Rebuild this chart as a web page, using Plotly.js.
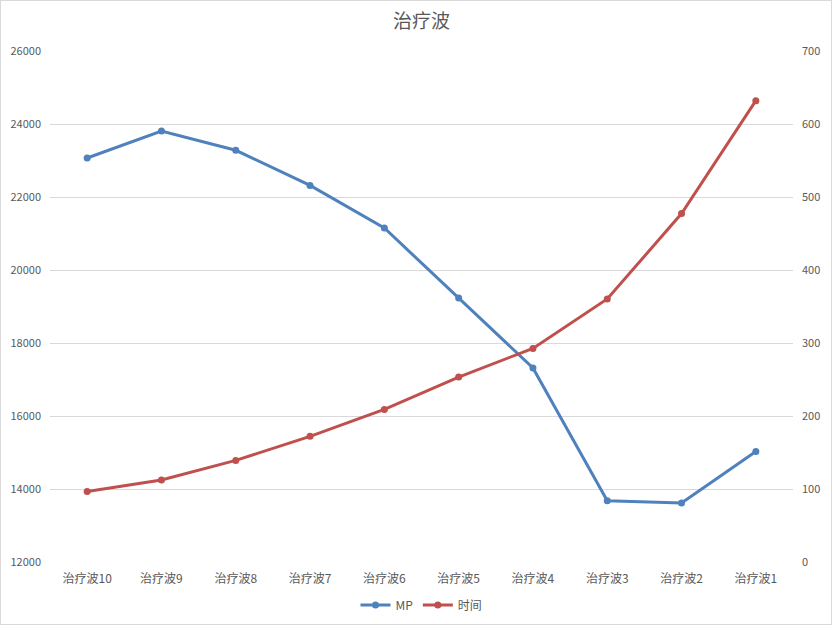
<!DOCTYPE html>
<html>
<head>
<meta charset="utf-8">
<script src="https://cdn.plot.ly/plotly-3.0.1.min.js"></script>
<style>
html,body{margin:0;padding:0;background:#fff;}
#chart{position:absolute;left:0;top:0;width:832px;height:625px;}
#frame{position:absolute;left:0;top:0;width:830px;height:623px;border:1px solid #d9d9d9;pointer-events:none;}
</style>
</head>
<body>
<div id="chart"></div>
<div id="frame"></div>
<script>
const categories = ["治疗波10","治疗波9","治疗波8","治疗波7","治疗波6","治疗波5","治疗波4","治疗波3","治疗波2","治疗波1"];
const mpValues = [23068, 23808, 23280, 22318, 21151, 19233, 17315, 13679, 13616, 15030];
const timeValues = [96.7, 112.3, 139.2, 172.1, 209, 253.4, 292.6, 360.3, 477.3, 632];
const seriesNames = ["MP", "时间"];

const font = "'Noto Sans CJK SC', 'Microsoft YaHei', sans-serif";
const tickColor = "#595959";

const traces = [
  {
    x: categories, y: mpValues, name: seriesNames[0], type: "scatter", mode: "lines+markers",
    line: {color: "#4F81BD", width: 3}, marker: {color: "#4F81BD", size: 7},
    yaxis: "y"
  },
  {
    x: categories, y: timeValues, name: seriesNames[1], type: "scatter", mode: "lines+markers",
    line: {color: "#C0504D", width: 3}, marker: {color: "#C0504D", size: 7},
    yaxis: "y2"
  }
];

const layout = {
  width: 832, height: 625,
  margin: {l: 50, r: 39, t: 51, b: 63, autoexpand: false},
  paper_bgcolor: "#fff", plot_bgcolor: "#fff",
  font: {family: font, color: tickColor, size: 11},
  title: {text: "治疗波", font: {family: font, size: 19, color: "#595959"}, x: 0.5, xanchor: "center", xref: "paper", y: 0.966, yanchor: "middle", yref: "container"},
  showlegend: true,
  legend: {orientation: "h", x: 0.5, xanchor: "center", xref: "paper", y: 0.032, yanchor: "middle", yref: "container", font: {size: 12, color: tickColor}, traceorder: "normal"},
  xaxis: {
    type: "category", range: [-0.5, categories.length - 0.5], autorange: false,
    showgrid: false, zeroline: false, showline: false, ticks: "", automargin: false,
    tickfont: {size: 12, color: tickColor}, ticklabelstandoff: 8
  },
  yaxis: {
    range: [12000, 26000], dtick: 2000, tick0: 12000, showgrid: true, gridcolor: "#d9d9d9", gridwidth: 1, automargin: false,
    zeroline: false, showline: false, ticks: "", tickfont: {size: 11, color: tickColor}, ticklabelstandoff: 8, tickformat: "d"
  },
  yaxis2: {
    range: [0, 700], dtick: 100, tick0: 0, overlaying: "y", side: "right", showgrid: false, automargin: false,
    zeroline: false, showline: false, ticks: "", tickfont: {size: 11, color: tickColor}, ticklabelstandoff: 8
  },
  hovermode: false
};

Plotly.newPlot("chart", traces, layout, {displayModeBar: false, staticPlot: true});
</script>
</body>
</html>
